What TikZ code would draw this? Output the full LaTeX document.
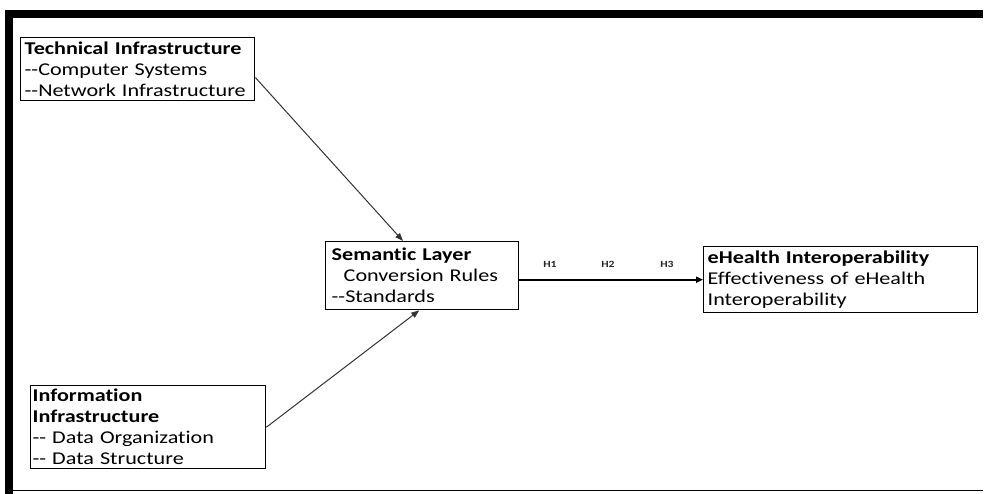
\documentclass[tikz,border=0pt]{standalone}
\usepackage{fontspec}
\setmainfont{Carlito}[FakeStretch=1.23,Ligatures={NoCommon}]
\usetikzlibrary{arrows.meta,calc}
\begin{document}
\begin{tikzpicture}[x=1pt,y=-1pt,
  boxnode/.style={draw=black,line width=1.4pt,anchor=north west,align=left,
    inner xsep=4pt,inner ysep=1pt,font=\fontsize{18}{21}\selectfont},
  diag/.style={draw=black!80,line width=1pt,-{Triangle[length=8pt,width=6pt]}},
  main/.style={draw=black,line width=2pt,-{Triangle[length=7pt,width=6pt]}},
  hlab/.style={font=\fontsize{9.5}{10}\selectfont\bfseries,text=black!85}]
\useasboundingbox (0,0) rectangle (987,494);
% frame
\fill[black] (7,10) rectangle (983,18);
\fill[black] (5,10) rectangle (13,494);
\draw[line width=1.5pt] (13,490.5) -- (983,490.5);
% boxes
\node[boxnode,minimum width=234pt,minimum height=63pt,text width=226pt] (tech) at (20,37)
  {\textbf{Technical Infrastructure}\\-{}-Computer Systems\\-{}-Network Infrastructure};
\node[boxnode,minimum width=193pt,minimum height=68pt,text width=181pt,inner xsep=6pt] (sem) at (325,241)
  {\textbf{Semantic Layer}\\\hspace*{12pt}Conversion Rules\\-{}-Standards};
\node[boxnode,minimum width=274pt,minimum height=66pt,text width=266pt] (eh) at (703,246)
  {\textbf{eHealth Interoperability}\\Effectiveness of eHealth\\Interoperability};
\node[boxnode,minimum width=235pt,minimum height=83pt,text width=231pt,inner xsep=2pt] (info) at (30,385)
  {\textbf{Information}\\\textbf{Infrastructure}\\-{}- Data Organization\\-{}- Data Structure};
% connectors
\draw[diag] ($(tech.north east)!0.63!(tech.south east)$) -- ($(sem.north west)+(78,0)$);
\draw[diag] (info.east) -- ($(sem.south)+(-3,0)$);
\draw[main] (sem.east |- eh.west) -- (eh.west);
% hypothesis labels
\node[hlab] (h1) at (550,264) {H1};
\node[hlab] (h2) at (608,264) {H2};
\node[hlab] (h3) at (667,264) {H3};
\end{tikzpicture}
\end{document}
